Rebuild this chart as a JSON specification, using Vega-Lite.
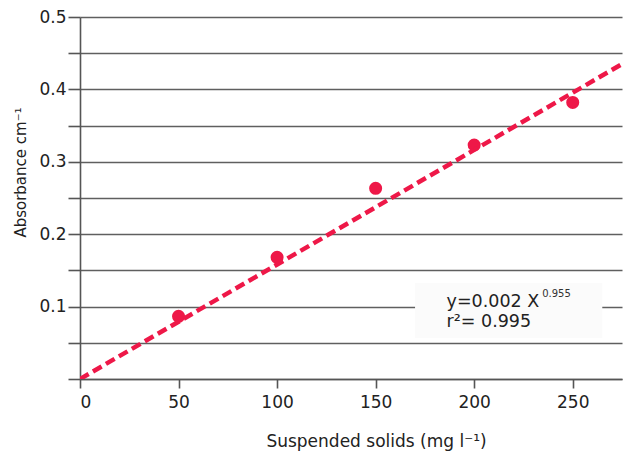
{
  "$schema": "https://vega.github.io/schema/vega-lite/v6.json",
  "autosize": {"type": "none"},
  "padding": {"left": 80, "top": 17, "right": 4, "bottom": 73},
  "width": 542,
  "height": 362,
  "background": "white",
  "config": {
    "view": {"stroke": null},
    "font": "DejaVu Sans",
    "axis": {
      "labelFont": "DejaVu Sans",
      "titleFont": "DejaVu Sans",
      "labelColor": "#222",
      "titleColor": "#222",
      "titleFontWeight": "normal",
      "domainColor": "#555",
      "tickColor": "#555",
      "domainWidth": 1.6,
      "tickWidth": 1.6,
      "gridColor": "#5f5f5f",
      "gridWidth": 1.7,
      "gridOpacity": 1,
      "labelOverlap": false
    }
  },
  "datasets": {
    "points": [
      {"solids": 50, "absorbance": 0.0865},
      {"solids": 100, "absorbance": 0.168},
      {"solids": 150, "absorbance": 0.2634},
      {"solids": 200, "absorbance": 0.3232},
      {"solids": 250, "absorbance": 0.382}
    ],
    "single": [{"n": 1}]
  },
  "layer": [
    {
      "data": {"name": "single"},
      "mark": {"type": "rect", "fill": "#fbfbfb", "stroke": null},
      "encoding": {
        "x": {"datum": 170, "type": "quantitative", "scale": {"domain": [0, 275], "nice": false, "zero": false},
          "axis": {"values": [0, 50, 100, 150, 200, 250], "tickCount": 20, "grid": false, "tickSize": 9, "labelFontSize": 17, "labelPadding": 6,
            "title": "Suspended solids (mg l⁻¹)", "titleFontSize": 17, "titleX": 296, "titleY": 67, "titleBaseline": "alphabetic", "titleAlign": "center"}},
        "x2": {"datum": 265},
        "y": {"datum": 0.0566, "type": "quantitative", "scale": {"domain": [0, 0.5], "nice": false, "zero": false},
          "axis": {"values": [0, 0.05, 0.1, 0.15, 0.2, 0.25, 0.3, 0.35, 0.4, 0.45, 0.5], "tickCount": 20, "grid": true, "tickSize": 12, "labelFontSize": 17, "labelPadding": 2,
            "labelExpr": "(round(datum.value*20)%2==0 && datum.value>0) ? format(datum.value, '.1f') : ''",
            "title": "Absorbance cm⁻¹", "titleFontSize": 15, "titleX": -60, "titleY": 155, "titleAngle": -90, "titleBaseline": "middle", "titleAlign": "center"}},
        "y2": {"datum": 0.1326}
      }
    },
    {
      "data": {"name": "points"},
      "mark": {"type": "point", "filled": true, "shape": "circle", "size": 170, "color": "#ee1848", "opacity": 1},
      "encoding": {
        "x": {"field": "solids", "type": "quantitative"},
        "y": {"field": "absorbance", "type": "quantitative"}
      }
    },
    {
      "data": {"name": "single"},
      "mark": {"type": "rule", "color": "#ee1848", "strokeWidth": 4.5, "strokeDash": [10, 5], "clip": true},
      "encoding": {
        "x": {"datum": 0, "type": "quantitative"},
        "x2": {"datum": 275},
        "y": {"datum": 0, "type": "quantitative"},
        "y2": {"datum": 0.435}
      }
    },
    {
      "data": {"name": "single"},
      "mark": {"type": "text", "text": "y=0.002 X", "fontSize": 17.5, "font": "DejaVu Sans", "align": "left", "baseline": "alphabetic", "color": "#222"},
      "encoding": {
        "x": {"datum": 186, "type": "quantitative"},
        "y": {"datum": 0.0994, "type": "quantitative"}
      }
    },
    {
      "data": {"name": "single"},
      "mark": {"type": "text", "text": "0.955", "fontSize": 10, "font": "DejaVu Sans", "align": "left", "baseline": "alphabetic", "color": "#333"},
      "encoding": {
        "x": {"datum": 234.5, "type": "quantitative"},
        "y": {"datum": 0.1135, "type": "quantitative"}
      }
    },
    {
      "data": {"name": "single"},
      "mark": {"type": "text", "text": "r²= 0.995", "fontSize": 17.5, "font": "DejaVu Sans", "align": "left", "baseline": "alphabetic", "color": "#222"},
      "encoding": {
        "x": {"datum": 186, "type": "quantitative"},
        "y": {"datum": 0.0725, "type": "quantitative"}
      }
    }
  ]
}
